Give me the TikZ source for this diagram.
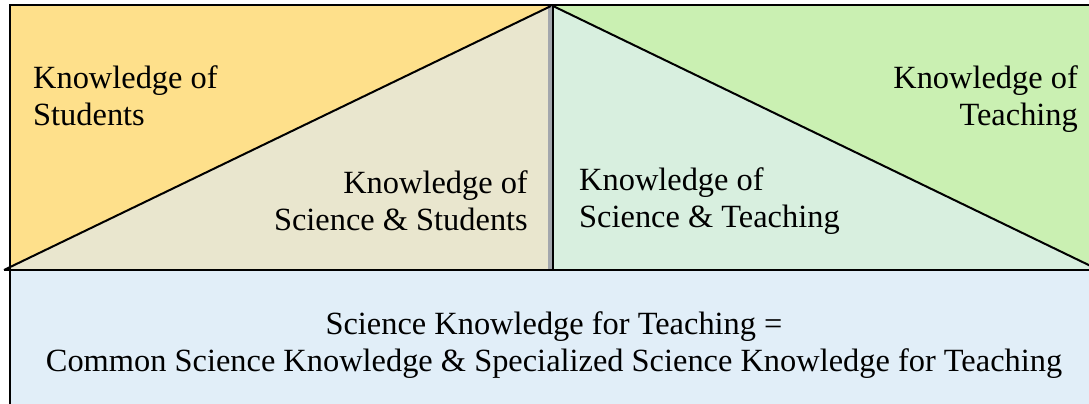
\documentclass[tikz,border=0pt]{standalone}
\usepackage{fontspec}
\setmainfont{Liberation Serif}
\newfontfamily\diagfont{Liberation Serif}
\usepackage{tikz}
\usetikzlibrary{positioning}

\definecolor{studyellow}{HTML}{FEE08B}
\definecolor{sciencebeige}{HTML}{E9E6CE}
\definecolor{teachgreen}{HTML}{CAF0B2}
\definecolor{sciencegreen}{HTML}{D8EFDF}
\definecolor{baseblue}{HTML}{E1EEF8}
\definecolor{splitgray}{HTML}{A3A7AD}

\begin{document}
\begin{tikzpicture}[x=1pt,y=-1pt,
		lbl/.style={inner sep=0pt,font=\diagfont\fontsize{32.4}{37}\selectfont},
		edge/.style={line width=2pt,black}]
		\useasboundingbox (0,0) rectangle (1089,404);
		\clip (0,0) rectangle (1089,404);

		\coordinate (apexL) at (551,6);
		\coordinate (apexR) at (553,6);
		\coordinate (footL) at (4,270);
		\coordinate (footR) at (1099,270);

		% four parts of the top band
		\fill[studyellow] (10,6) -- (apexL) -- (footL) -- (10,270) -- cycle;
		\fill[sciencebeige] (footL) -- (apexL) -- (551,270) -- cycle;
		\fill[sciencegreen] (apexR) -- (553,270) -- (footR) -- cycle;
		\fill[teachgreen] (apexR) -- (1100,6) -- (footR) -- cycle;

		% base band
		\fill[baseblue] (10,270) rectangle (1100,410);

		\draw[splitgray, line width=4pt] (549.5,6) -- (549.5,270);
		\draw[black, line width=1.5pt] (553,6) -- (553,270);

		\draw[edge] (10,410) -- (10,5) -- (1100,5);
		\draw[edge] (footL) -- (apexL);
		\draw[edge] (apexR) -- (footR);
		\draw[edge] (footL) -- (1100,270);

		\node[lbl, anchor=north west, align=left] (students) at (33,65) {Knowledge of\\Students};
		\node[lbl, anchor=north east, align=right] (teaching) at (1078,65) {Knowledge of\\Teaching};
		\node[lbl, anchor=north east, align=right] (scistud) at (528,170) {Knowledge of\\Science \& Students};
		\node[lbl, anchor=north west, align=left] (sciteach) at (579,167) {Knowledge of\\Science \& Teaching};
		\node[lbl, anchor=north, align=center] (skt) at (554,311) {Science Knowledge for Teaching =\\Common Science Knowledge \& Specialized Science Knowledge for Teaching};
	\end{tikzpicture}
\end{document}
